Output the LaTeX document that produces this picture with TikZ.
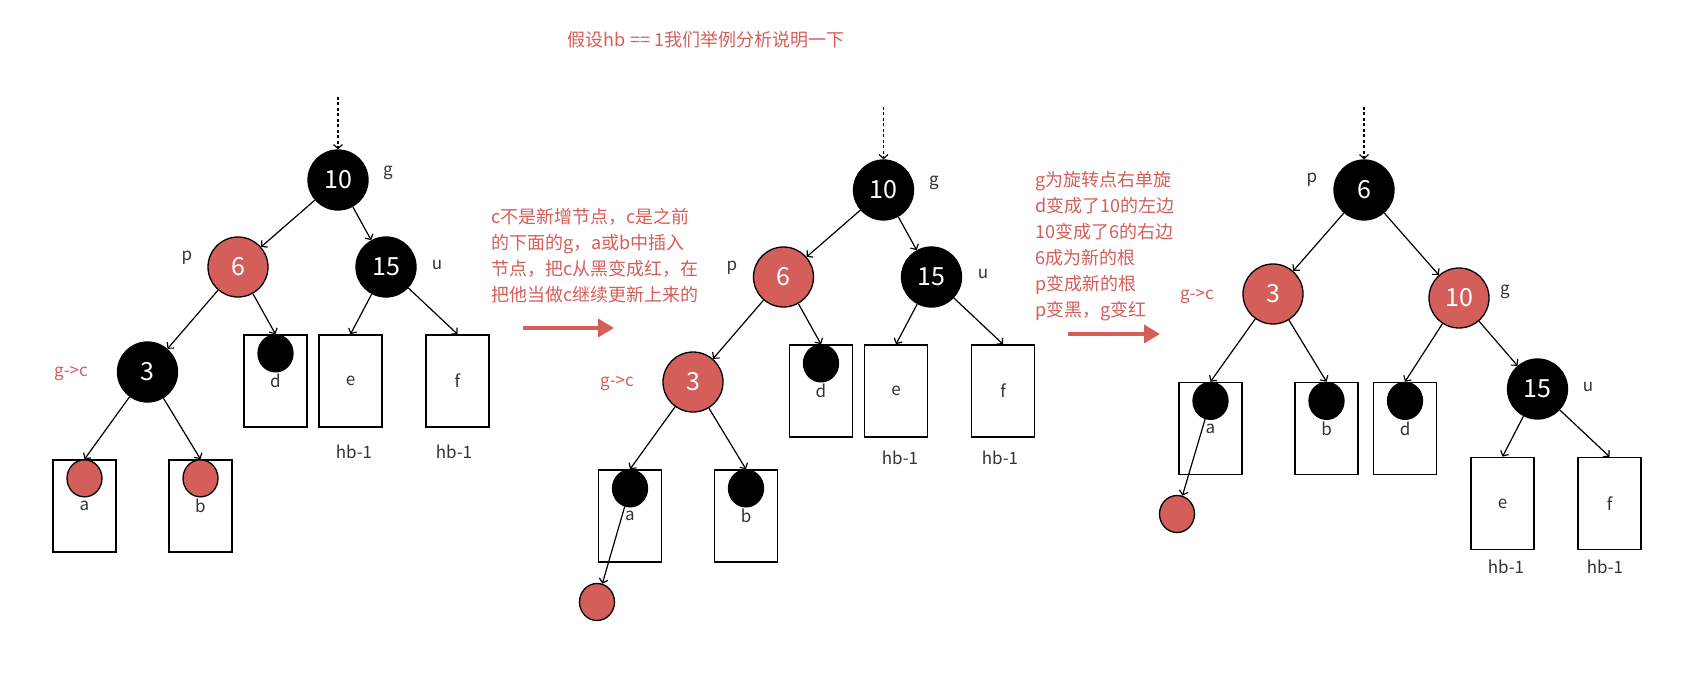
\documentclass[tikz,border=0pt]{standalone}
\usepackage{fontspec}
\setmainfont{Noto Sans CJK SC}
\usetikzlibrary{arrows.meta,shapes.geometric,positioning}
\definecolor{hong}{RGB}{212,94,90}
\definecolor{hui}{RGB}{51,51,51}

\begin{document}
\begin{tikzpicture}[x=1pt,y=-1pt,
        rb/.style={circle,draw,line width=1.3pt,minimum size=60pt,inner sep=0pt,text=white,font=\fontsize{25}{25}\selectfont},
        hei/.style={rb,fill=black},
        hongd/.style={rb,fill=hong},
        ye/.style={ellipse,draw,line width=1.3pt,minimum width=35pt,minimum height=37pt,inner sep=0pt,anchor=north},
        kuang/.style={rectangle,draw,line width=1.6pt,minimum width=63pt,minimum height=92pt,inner sep=0pt,text=hui,font=\fontsize{17}{17}\selectfont},
        lbl/.style={text=hui,font=\fontsize{17}{17}\selectfont},
        hlbl/.style={text=hong,font=\fontsize{17}{17}\selectfont},
        shuoming/.style={text=hong,align=left,anchor=west,inner sep=0pt,font=\fontsize{18}{26}\selectfont},
        jt/.style={line width=1.2pt,-{Straight Barb[length=4pt,width=9pt]}},
        xu/.style={jt,dash pattern=on 3pt off 2.5pt},
        cu/.style={hong,line width=3.5pt,-{Triangle[length=16pt,width=18pt]}}]
        \useasboundingbox[fill=white] (0,0) rectangle (1683,676);

        \node[hlbl,font=\fontsize{18}{18}\selectfont] (biaoti) at (706,40) {假设hb == 1我们举例分析说明一下};

        % before
        \coordinate (t1) at (338,97);
        \node[hei] (g1) at (338,180) {10};
        \node[hongd] (p1) at (238,267) {6};
        \node[hei] (u1) at (386,267) {15};
        \node[hei] (c1) at (147.5,372) {3};
        \node[kuang] (d1) at (275.5,381) {d};
        \node[kuang] (e1) at (350.5,381) {e};
        \node[kuang] (f1) at (457.5,381) {f};
        \node[kuang] (a1) at (84.5,506) {a};
        \node[kuang] (b1) at (200.5,506) {b};
        \node[ye,fill=black] (dd1) at (d1.north) {};
        \node[ye,fill=hong] (aa1) at (a1.north) {};
        \node[ye,fill=hong] (bb1) at (b1.north) {};
        \node[lbl] (lg1) at (388,173) {g};
        \node[lbl] (lp1) at (187,258) {p};
        \node[lbl] (lu1) at (437,265) {u};
        \node[hlbl] (lc1) at (71,374) {g->c};
        \node[lbl] (he1) at (354,452) {hb-1};
        \node[lbl] (hf1) at (454,452) {hb-1};

        \draw[xu] (t1) -- (g1);
        \draw[jt] (g1) -- (p1);
        \draw[jt] (g1) -- (u1);
        \draw[jt] (p1) -- (c1);
        \draw[jt] (p1) -- (d1.north);
        \draw[jt] (u1) -- (e1.north);
        \draw[jt] (u1) -- (f1.north);
        \draw[jt] (c1) -- (a1.north);
        \draw[jt] (c1) -- (b1.north);

        \node[shuoming] (sm1) at (491,256) {c不是新增节点，c是之前\\的下面的g，a或b中插入\\节点，把c从黑变成红，在\\把他当做c继续更新上来的};
        \coordinate (r1a) at (523,328);
        \coordinate (r1b) at (614,328);
        \draw[cu] (r1a) -- (r1b);

        % recolor
        \coordinate (t2) at (883.5,107);
        \node[hei] (g2) at (883.5,190) {10};
        \node[hongd] (p2) at (783.5,277) {6};
        \node[hei] (u2) at (931.5,277) {15};
        \node[hongd] (c2) at (693,382) {3};
        \node[kuang] (d2) at (821,391) {d};
        \node[kuang] (e2) at (896,391) {e};
        \node[kuang] (f2) at (1003,391) {f};
        \node[kuang] (a2) at (630,516) {a};
        \node[kuang] (b2) at (746,516) {b};
        \node[ye,fill=black] (dd2) at (d2.north) {};
        \node[ye,fill=black] (aa2) at (a2.north) {};
        \node[ye,fill=black] (bb2) at (b2.north) {};
        \node[ye,fill=hong,anchor=center] (x2) at (597,602) {};
        \node[lbl] (lg2) at (934,183) {g};
        \node[lbl] (lp2) at (732,268) {p};
        \node[lbl] (lu2) at (983,274) {u};
        \node[hlbl] (lc2) at (617,384) {g->c};
        \node[lbl] (he2) at (900,458) {hb-1};
        \node[lbl] (hf2) at (1000,458) {hb-1};

        \draw[xu] (t2) -- (g2);
        \draw[jt] (g2) -- (p2);
        \draw[jt] (g2) -- (u2);
        \draw[jt] (p2) -- (c2);
        \draw[jt] (p2) -- (d2.north);
        \draw[jt] (u2) -- (e2.north);
        \draw[jt] (u2) -- (f2.north);
        \draw[jt] (c2) -- (a2.north);
        \draw[jt] (c2) -- (b2.north);
        \draw[jt] (aa2) -- (x2);

        \node[shuoming] (sm2) at (1035,246) {g为旋转点右单旋\\d变成了10的左边\\10变成了6的右边\\6成为新的根\\p变成新的根\\p变黑，g变红};
        \coordinate (r2a) at (1068,334);
        \coordinate (r2b) at (1160,334);
        \draw[cu] (r2a) -- (r2b);

        % rotate
        \coordinate (t3) at (1364,107);
        \node[hei] (p3) at (1364,190) {6};
        \node[hongd] (c3) at (1273,294) {3};
        \node[hongd] (g3) at (1459,298) {10};
        \node[hei] (u3) at (1537.5,389) {15};
        \node[kuang] (a3) at (1210.5,428.5) {a};
        \node[kuang] (b3) at (1326.5,428.5) {b};
        \node[kuang] (d3) at (1405,428.5) {d};
        \node[kuang] (e3) at (1502.5,503.5) {e};
        \node[kuang] (f3) at (1609.5,503.5) {f};
        \node[ye,fill=black] (aa3) at (a3.north) {};
        \node[ye,fill=black] (bb3) at (b3.north) {};
        \node[ye,fill=black] (dd3) at (d3.north) {};
        \node[ye,fill=hong,anchor=center] (x3) at (1177,514) {};
        \node[lbl] (lp3) at (1312,180) {p};
        \node[hlbl] (lc3) at (1197,297) {g->c};
        \node[lbl] (lg3) at (1505,292) {g};
        \node[lbl] (lu3) at (1588,387) {u};
        \node[lbl] (he3) at (1506,567) {hb-1};
        \node[lbl] (hf3) at (1605,567) {hb-1};

        \draw[xu] (t3) -- (p3);
        \draw[jt] (p3) -- (c3);
        \draw[jt] (p3) -- (g3);
        \draw[jt] (c3) -- (a3.north);
        \draw[jt] (c3) -- (b3.north);
        \draw[jt] (g3) -- (d3.north);
        \draw[jt] (g3) -- (u3);
        \draw[jt] (u3) -- (e3.north);
        \draw[jt] (u3) -- (f3.north);
        \draw[jt] (aa3) -- (x3);
    \end{tikzpicture}
\end{document}
